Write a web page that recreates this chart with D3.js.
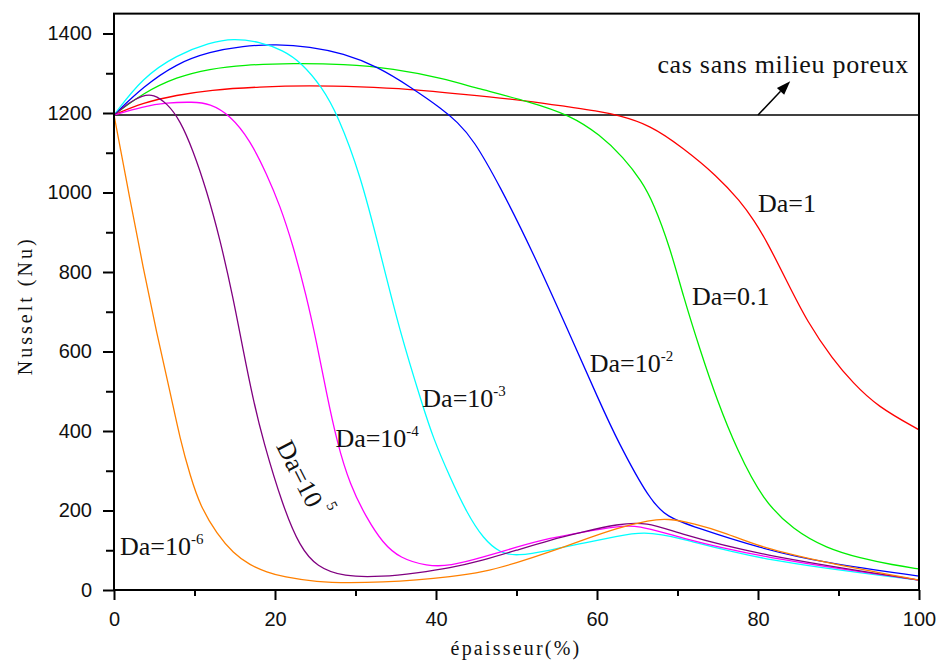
<!DOCTYPE html>
<html>
<head>
<meta charset="utf-8">
<script src="https://cdn.jsdelivr.net/npm/d3@7"></script>
<style>
body { margin: 0; background: #fff; }
.tick text { font-family: "Liberation Sans", Arial, sans-serif; font-size: 20px; fill: #111; }
.note { font-family: "Liberation Serif", "Times New Roman", serif; font-size: 26px; fill: #111; }
.title { font-family: "Liberation Serif", "Times New Roman", serif; font-size: 20px; fill: #111; }
</style>
</head>
<body>
<script>
const width = 939
const height = 662

// curves: [épaisseur %, Nusselt]
const da1 = [[0,1195],[3.6,1226],[7.8,1245],[11.9,1258],[18.1,1266],[24.3,1269],[30.6,1266],[36.8,1260],[43,1248],[51.7,1230],[56.2,1216],[60,1205],[62.5,1195],[66.6,1170],[70.7,1112],[74.9,1042],[77.8,978],[79.5,930],[81.1,877],[83.6,776],[86.1,675],[89.3,580],[91.8,521],[94.8,462],[100,403]]
const da01 = [[0,1195],[3.6,1250],[7.8,1291],[11.9,1311],[16,1321],[22.3,1325],[28.5,1323],[34.7,1312],[40.9,1287],[45.1,1262],[51.7,1228],[56.6,1195],[60.4,1145],[63.3,1088],[65.5,1030],[67,975],[69.1,860],[70.7,740],[72.8,604],[74.9,478],[77.4,352],[80.6,226],[84.4,151],[88.5,105],[92.7,80],[96.8,63],[100,53]]
const da2 = [[0,1195],[3.6,1266],[7.8,1325],[11.9,1354],[16,1369],[20.2,1373],[24.3,1367],[28.5,1350],[32.7,1317],[36.8,1266],[40.9,1208],[42.6,1178],[44.6,1135],[47.9,1018],[52.1,847],[56.2,662],[60.4,470],[62.5,377],[66.6,224],[68.7,184],[72,159],[80.2,105],[88.5,67],[100,35]]
const da3 = [[0,1195],[3.6,1290],[7.8,1346],[11.9,1377],[14.8,1388],[18.1,1379],[21,1358],[23.3,1326],[25.8,1266],[27.8,1195],[30.6,1045],[33,855],[35.5,650],[38.4,460],[39.6,385],[41.7,285],[43.8,195],[45.9,128],[48,93],[50,85],[54.2,100],[58.3,118],[62.5,135],[65.7,147],[70,134],[80,75],[100,25]]
const da4 = [[0,1195],[3.6,1216],[6.5,1226],[9.8,1228],[11.9,1224],[14.4,1195],[16.9,1132],[19,1045],[20.6,968],[22.2,870],[23.9,740],[25.2,620],[26.4,495],[27.7,372],[29.3,265],[31.4,180],[33.4,118],[35.5,80],[38.9,60],[41.7,60],[45.9,83],[50,108],[54.2,131],[58.3,146],[62.5,160],[65,164],[70,133],[80,83],[100,25]]
const da5 = [[0,1195],[2,1228],[3.5,1244],[4.9,1248],[6.6,1224],[8.2,1182],[9.8,1107],[11.5,1006],[13.2,880],[14.8,735],[16,608],[17.3,478],[18.5,377],[21,209],[23.1,108],[25.2,58],[28.5,33],[33.4,33],[37.6,43],[41.7,55],[45.9,75],[50,100],[54.2,126],[58.3,146],[62.5,166],[66.2,171],[70,143],[80,88],[100,25]]
const da6 = [[0,1195],[2,981],[3.6,813],[5.3,646],[7,496],[8.2,380],[9.5,285],[10.7,212],[12.8,140],[14.8,93],[16.9,62],[19,45],[21,33],[25.2,20],[29.3,18],[33.4,20],[37.6,25],[41.7,33],[45.9,45],[50,68],[54.2,96],[58.3,126],[62.5,156],[66.6,176],[68.7,180],[72,168],[76.1,143],[80.2,108],[88.5,68],[100,25]]

const seriesData = [da1, da01, da2, da3, da4, da5, da6]
const seriesColors = ["#ff0000", "#00ee00", "#0000ff", "#00ffff", "#ff00ff", "#800080", "#ff8000"]

const refValue = 1195  // cas sans milieu poreux
const xTicks = [0, 20, 40, 60, 80, 100]
const xMinor = [10, 30, 50, 70, 90]
const yTicks = [0, 200, 400, 600, 800, 1000, 1200, 1400]
const yMinor = [100, 300, 500, 700, 900, 1100, 1300]

// label anchors in data units
const labelText = ["Da=1", "Da=0.1", "Da=10", "Da=10", "Da=10", "Da=10", "Da=10"]
const labelSup = ["", "", "-2", "-3", "-4", "5", "-6"]
const labelPos = [[80, 950], [71.8, 717], [59.1, 549], [38.3, 461], [27.5, 360], [20.1, 362], [0.75, 88]]
const labelAngle = [0, 0, 0, 0, 0, 63, 0]

const x = d3.scaleLinear().domain([0, 100]).range([114, 919])
const y = d3.scaleLinear().domain([0, 1400]).range([590, 33.5])
const yTop = 1450

const svg = d3.select("body")
    .append("svg")
    .attr("width", width)
    .attr("height", height)

svg.append("defs").append("clipPath")
    .attr("id", "plot")
    .append("rect")
    .attr("x", x(0))
    .attr("y", y(yTop))
    .attr("width", x(100) - x(0))
    .attr("height", y(0) - y(yTop))

// reference line
svg.append("line")
    .attr("x1", x(0)).attr("x2", x(100))
    .attr("y1", y(refValue)).attr("y2", y(refValue))
    .attr("stroke", "#000")
    .attr("stroke-width", 1.5)

const line = d3.line()
    .x(d => x(d[0]))
    .y(d => y(d[1]))
    .curve(d3.curveBasis)

const g = svg.append("g").attr("clip-path", "url(#plot)")
seriesData.forEach((s, i) => {
    g.append("path")
        .datum(s)
        .attr("d", line)
        .attr("fill", "none")
        .attr("stroke", seriesColors[i])
        .attr("stroke-width", 1.3)
})

// frame
svg.append("rect")
    .attr("x", x(0))
    .attr("y", y(yTop))
    .attr("width", x(100) - x(0))
    .attr("height", y(0) - y(yTop))
    .attr("fill", "none")
    .attr("stroke", "#000")
    .attr("stroke-width", 2)

// axes
function styleAxis(sel) {
    sel.select(".domain").remove()
    sel.selectAll(".tick line").attr("stroke", "#000").attr("stroke-width", 2)
}
svg.append("g")
    .attr("transform", `translate(${x(0)},0)`)
    .call(d3.axisLeft(y).tickValues(yTicks).tickSize(11).tickPadding(11).tickFormat(d3.format("d")))
    .call(styleAxis)
svg.append("g")
    .attr("transform", `translate(${x(0)},0)`)
    .call(d3.axisLeft(y).tickValues(yMinor).tickSize(8).tickFormat(""))
    .call(styleAxis)
svg.append("g")
    .attr("transform", `translate(0,${y(0)})`)
    .call(d3.axisBottom(x).tickValues(xTicks).tickSize(10).tickPadding(12).tickFormat(d3.format("d")))
    .call(styleAxis)
svg.append("g")
    .attr("transform", `translate(0,${y(0)})`)
    .call(d3.axisBottom(x).tickValues(xMinor).tickSize(6).tickFormat(""))
    .call(styleAxis)

// axis titles
svg.append("text")
    .attr("class", "title")
    .attr("transform", `translate(32,${(y(0) + y(yTop)) / 2 + 4}) rotate(-90)`)
    .attr("text-anchor", "middle")
    .attr("letter-spacing", 3)
    .text("Nusselt (Nu)")
svg.append("text")
    .attr("class", "title")
    .attr("x", 516)
    .attr("y", 655)
    .attr("text-anchor", "middle")
    .attr("letter-spacing", 2.2)
    .text("épaisseur(%)")

// curve labels
labelText.forEach((t, i) => {
    const p = labelPos[i]
    const txt = svg.append("text")
        .attr("class", "note")
        .attr("transform", `translate(${x(p[0])},${y(p[1])}) rotate(${labelAngle[i]})`)
        .text(t)
    if (labelSup[i]) {
        txt.append("tspan")
            .attr("font-size", 15)
            .attr("dy", labelAngle[i] ? -18 : -11)
            .attr("dx", labelAngle[i] ? 4 : 0)
            .text(labelSup[i])
    }
})

// annotation for the reference line
svg.append("text")
    .attr("class", "note")
    .attr("x", x(67.5))
    .attr("y", y(1300))
    .attr("letter-spacing", 0.7)
    .text("cas sans milieu poreux")

const a0 = [x(80), y(refValue)]
const a1 = [x(84), y(1280)]
const ang = Math.atan2(a1[1] - a0[1], a1[0] - a0[0])
const headLen = 14, headW = 5
const base = [a1[0] - headLen * Math.cos(ang), a1[1] - headLen * Math.sin(ang)]
svg.append("line")
    .attr("x1", a0[0]).attr("y1", a0[1])
    .attr("x2", base[0]).attr("y2", base[1])
    .attr("stroke", "#000")
    .attr("stroke-width", 1.5)
svg.append("polygon")
    .attr("points", [
        a1,
        [base[0] + headW * Math.sin(ang), base[1] - headW * Math.cos(ang)],
        [base[0] - headW * Math.sin(ang), base[1] + headW * Math.cos(ang)]
    ].join(" "))
    .attr("fill", "#000")
</script>
</body>
</html>
